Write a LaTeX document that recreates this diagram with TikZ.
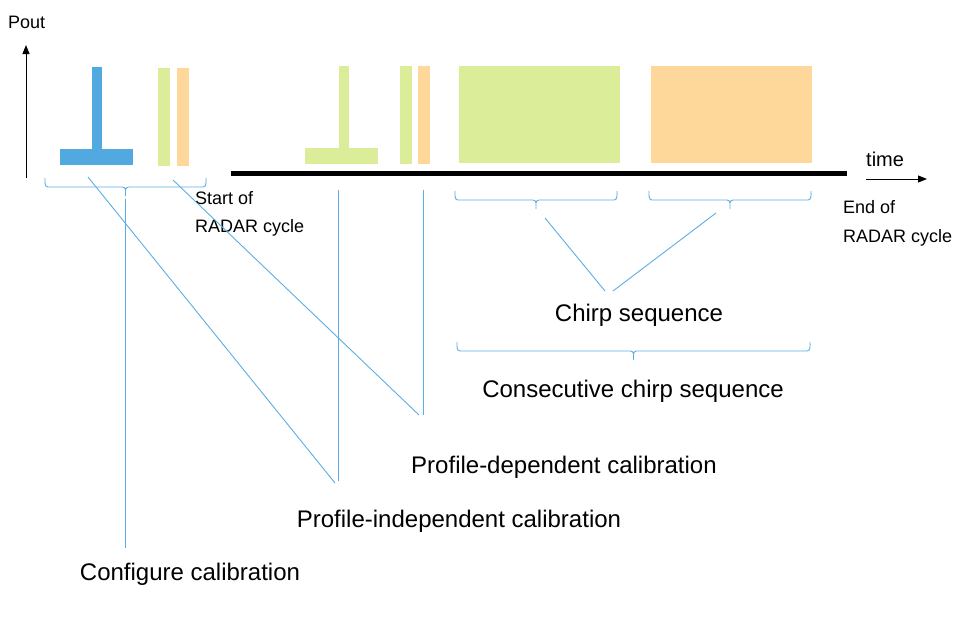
\documentclass[tikz,border=0pt]{standalone}
\usepackage{fontspec}
\setmainfont{Liberation Sans}
\usetikzlibrary{arrows.meta}
\definecolor{cblue}{HTML}{51A9E0}
\definecolor{cgreen}{HTML}{DCED9A}
\definecolor{corange}{HTML}{FED79B}
\definecolor{cline}{HTML}{5DADE2}
\tikzset{
  big/.style={inner sep=0pt,font=\fontsize{24}{28}\selectfont},
  small/.style={inner sep=0pt,font=\fontsize{18}{22}\selectfont,anchor=west},
  link/.style={draw=cline,line width=0.9pt},
}
% brace: x1, x2, top y; flat at top+9, tip at top+18
\newcommand\mybrace[3]{%
  \pgfmathsetmacro\bm{(#1+#2)/2}%
  \pgfmathsetmacro\bf{#3+9}%
  \pgfmathsetmacro\bt{#3+18}%
  \draw[link] (#1,#3) to[out=-90,in=180] (#1+3,\bf) -- (\bm-3,\bf)
     to[out=0,in=90] (\bm,\bf+3) -- (\bm,\bt) (\bm,\bf+3) to[out=90,in=180] (\bm+3,\bf) -- (#2-3,\bf)
     to[out=0,in=-90] (#2,#3);}
\begin{document}
\begin{tikzpicture}[x=1pt,y=-1pt]
\useasboundingbox (0,0) rectangle (961,635);
% axes
\draw[line width=1pt,-{Triangle[length=9pt,width=7pt]}] (26,178) -- (26,45);
\node[small] (pout) at (8,22) {Pout};
\draw[line width=5pt] (231,173) -- (847,173);
\draw[line width=1pt,-{Triangle[length=9pt,width=7pt]}] (866,179) -- (927,179);
\node[small,font=\fontsize{20}{24}\selectfont] (time) at (866,159) {time};
% pulses
\fill[cblue] (60,149) rectangle (133,165);
\fill[cblue] (92,67) rectangle (102,149);
\fill[cgreen] (158,68) rectangle (170,166);
\fill[corange] (177,68) rectangle (189,166);
\fill[cgreen] (305,148) rectangle (378,164);
\fill[cgreen] (339,66) rectangle (349,148);
\fill[cgreen] (400,66) rectangle (412,164);
\fill[corange] (418,66) rectangle (430,164);
\fill[cgreen] (459,66) rectangle (620,163);
\fill[corange] (651,66) rectangle (812,163);
% labels small
\node[small] (start1) at (195,198) {Start of};
\node[small] (start2) at (195,228) {RADAR cycle};
\node[small] (end1) at (843,207) {End of};
\node[small] (end2) at (843,238) {RADAR cycle};
% braces
\mybrace{45}{206}{178}
\mybrace{455}{617}{191}
\mybrace{649}{811}{191}
\mybrace{457}{810}{342}
% big labels
\node[big] (chirp) at (639,315) {Chirp sequence};
\node[big] (consec) at (633,391) {Consecutive chirp sequence};
\node[big] (pdep) at (564,467) {Profile-dependent calibration};
\node[big] (pind) at (459,521) {Profile-independent calibration};
\node[big] (conf) at (190,574) {Configure calibration};
% connectors
\coordinate (c1) at (125,199);
\coordinate (c1e) at (125,548);
\draw[link] (c1) -- (c1e);
\coordinate (p1s) at (88,177);
\coordinate (p1e) at (335,483);
\coordinate (v1s) at (338,190);
\coordinate (v1e) at (338,481);
\draw[link] (p1s) -- (p1e);
\draw[link] (v1s) -- (v1e);
\coordinate (p2s) at (173,180);
\coordinate (p2e) at (419,415);
\coordinate (v2s) at (423,190);
\coordinate (v2e) at (423,415);
\draw[link] (p2s) -- (p2e);
\draw[link] (v2s) -- (v2e);
\coordinate (q1s) at (545,218);
\coordinate (q1e) at (605,291);
\coordinate (q2s) at (716,213);
\coordinate (q2e) at (613,291);
\draw[link] (q1s) -- (q1e);
\draw[link] (q2s) -- (q2e);
\end{tikzpicture}
\end{document}
